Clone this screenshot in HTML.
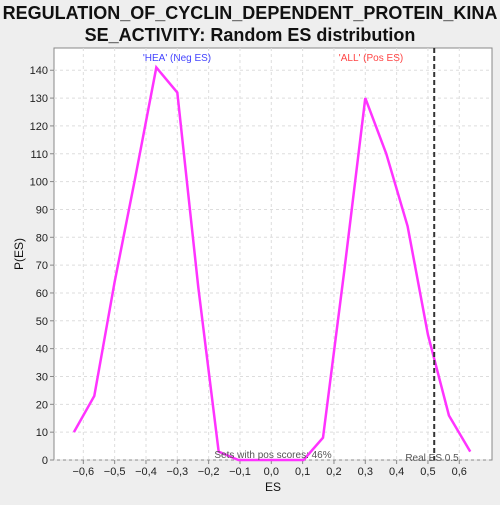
<!DOCTYPE html>
<html><head><meta charset="utf-8"><style>
body{margin:0;background:#eeeeee;font-family:"Liberation Sans","DejaVu Sans",sans-serif}
</style></head><body>
<svg id="c" width="500" height="500" xmlns="http://www.w3.org/2000/svg">
<text x="250" y="19" text-anchor="middle" font-size="18" font-weight="bold" fill="#111">REGULATION_OF_CYCLIN_DEPENDENT_PROTEIN_KINA</text>
<text x="250" y="41" text-anchor="middle" font-size="18" font-weight="bold" fill="#111">SE_ACTIVITY: Random ES distribution</text>
<rect x="54" y="48" width="438" height="412" fill="#fff" stroke="#888"/>
<g id="grid"></g><g id="axes"></g><g id="marks"></g>
<text x="177" y="61" text-anchor="middle" font-size="10" fill="#4444ff">'HEA' (Neg ES)</text>
<text x="371" y="61" text-anchor="middle" font-size="10" fill="#ff4444">'ALL' (Pos ES)</text>
<text x="273" y="458" text-anchor="middle" font-size="10" fill="#555">Sets with pos scores: 46%</text>
<text x="432" y="461" text-anchor="middle" font-size="10" fill="#555">Real ES 0.5</text>
<text x="273" y="491" text-anchor="middle" font-size="12" fill="#111">ES</text>
<text x="23" y="254" text-anchor="middle" font-size="12" fill="#111" transform="rotate(-90 23 254)">P(ES)</text>
</svg>
<script>
const esValues=[-0.63,-0.565,-0.5,-0.435,-0.367,-0.3,-0.233,-0.168,-0.105,-0.04,0.03,0.103,0.165,0.233,0.3,0.367,0.435,0.5,0.567,0.635];
const density=[10,23,64,101,141,132,62,3,0,0,0,0,8,68,130,110,84,45,16,3];
const xTicks=[-0.6,-0.5,-0.4,-0.3,-0.2,-0.1,0,0.1,0.2,0.3,0.4,0.5,0.6];
const yTicks=[0,10,20,30,40,50,60,70,80,90,100,110,120,130,140];
const realES=0.52;
const NS="http://www.w3.org/2000/svg";
const X=v=>271.3+v*313.3, Y=v=>460-v*2.784;
function mk(t,a,p){const e=document.createElementNS(NS,t);for(const k in a)e.setAttribute(k,a[k]);document.getElementById(p).appendChild(e);return e;}
xTicks.forEach(v=>{
 const g=mk('line',{x1:X(v),x2:X(v),y1:48,y2:460,stroke:'#ddd','stroke-dasharray':'3,3'},'grid');
 
 
 const t=mk('line',{x1:X(v),x2:X(v),y1:460,y2:464,stroke:'#888'},'axes');
 
 
 const l=mk('text',{x:X(v),y:475,'text-anchor':'middle','font-size':'11',fill:'#222'},'axes');
 l.textContent=(v<0?'\u2212':'')+Math.abs(v).toFixed(1).replace('.',',');
 
 
});
yTicks.forEach(v=>{
 const g=mk('line',{x1:54,x2:492,y1:Y(v),y2:Y(v),stroke:'#ddd','stroke-dasharray':'3,3'},'grid');
 
 
 const t=mk('line',{x1:50,x2:54,y1:Y(v),y2:Y(v),stroke:'#888'},'axes');
 
 
 const l=mk('text',{x:48,y:Y(v)+4,'text-anchor':'end','font-size':'11',fill:'#222'},'axes');
 l.textContent=v;
 
 
});
const pl=mk('polyline',{points:esValues.map((v,i)=>X(v)+','+Y(density[i])).join(' '),fill:'none',stroke:'#ff33ff','stroke-width':'2.5'},'marks');


const rl=mk('line',{x1:X(realES),x2:X(realES),y1:48,y2:460,stroke:'#333','stroke-width':'2','stroke-dasharray':'5,3'},'marks');


</script>
</body></html>
